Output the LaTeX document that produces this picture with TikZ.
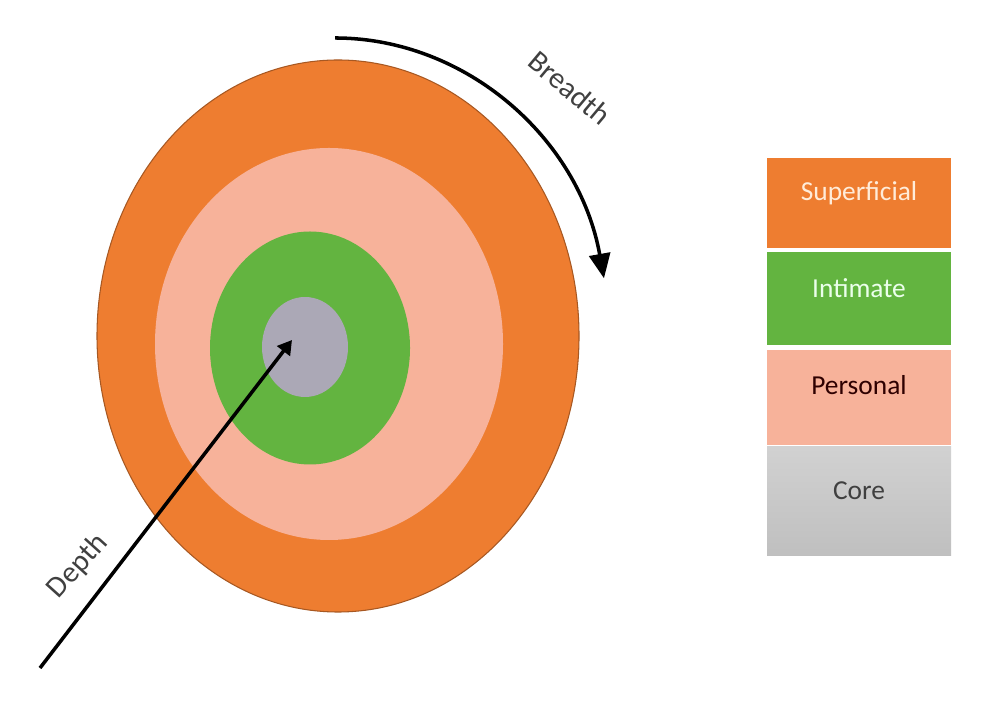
\documentclass[tikz,border=0pt]{standalone}
\usepackage{fontspec}
\setmainfont{Carlito}
\usetikzlibrary{shapes.geometric,arrows.meta}
\definecolor{superorange}{HTML}{EE7D30}
\definecolor{intgreen}{HTML}{63B440}
\definecolor{perssalmon}{HTML}{F7B29A}
\definecolor{coregrey}{HTML}{ABA8B6}
\tikzstyle{ring}=[ellipse,inner sep=0pt,draw=none]
\tikzstyle{legendbox}=[rectangle,minimum width=1.84cm,inner sep=0pt,draw=none]
\tikzstyle{legendtext}=[font=\fontsize{7.8}{9}\selectfont]
\tikzstyle{pointer}=[draw,line width=1pt,-{Triangle[length=7pt,width=6pt]}]
\tikzstyle{smallpointer}=[draw,line width=1pt,-{Triangle[length=4pt,width=4.5pt]}]
\tikzstyle{pointerlabel}=[font=\fontsize{8.5}{10}\selectfont,text=black!75]

\begin{document}
\begin{tikzpicture}
    \useasboundingbox (0,0) rectangle (10,7.08);

    % circles of the onion
    \node[ring,fill=superorange,draw=superorange!70!black,line width=0.3pt,
          minimum width=4.82cm,minimum height=5.52cm] (superficial) at (3.38,3.72) {};
    \node[ring,fill=perssalmon,minimum width=3.48cm,minimum height=3.92cm] (personal) at (3.29,3.64) {};
    \node[ring,fill=intgreen,minimum width=2.00cm,minimum height=2.33cm] (intimate) at (3.10,3.60) {};
    \node[ring,fill=coregrey,minimum width=0.86cm,minimum height=1.00cm] (core) at (3.05,3.61) {};

    % depth arrow
    \coordinate (depthtail) at (0.40,0.40);
    \coordinate (depthtip) at (2.92,3.68);
    \path[smallpointer] (depthtail) -- (depthtip);
    \node[pointerlabel,rotate=48] (depth) at (0.78,1.42) {Depth};

    % breadth arrow
    \coordinate (breadthstart) at (3.35,6.70);
    \path[pointer] (breadthstart) arc[start angle=90,end angle=11,x radius=2.74,y radius=2.97];
    \node[pointerlabel,rotate=-40] (breadth) at (5.70,6.20) {Breadth};

    % legend
    \node[legendbox,fill=superorange,minimum height=0.90cm,
          label={[legendtext,text=orange!15,yshift=1mm]center:Superficial}] (legsuperficial) at (8.59,5.05) {};
    \node[legendbox,fill=intgreen,minimum height=0.93cm,
          label={[legendtext,text=green!8,yshift=1mm]center:Intimate}] (legintimate) at (8.59,4.095) {};
    \node[legendbox,fill=perssalmon,minimum height=0.95cm,
          label={[legendtext,text=black!70!red!60!black,yshift=1.2mm]center:Personal}] (legpersonal) at (8.59,3.105) {};
    \node[legendbox,top color=black!18,bottom color=black!25,minimum height=1.09cm,
          label={[legendtext,text=black!75,yshift=1.1mm]center:Core}] (legcore) at (8.59,2.065) {};

\end{tikzpicture}
\end{document}
